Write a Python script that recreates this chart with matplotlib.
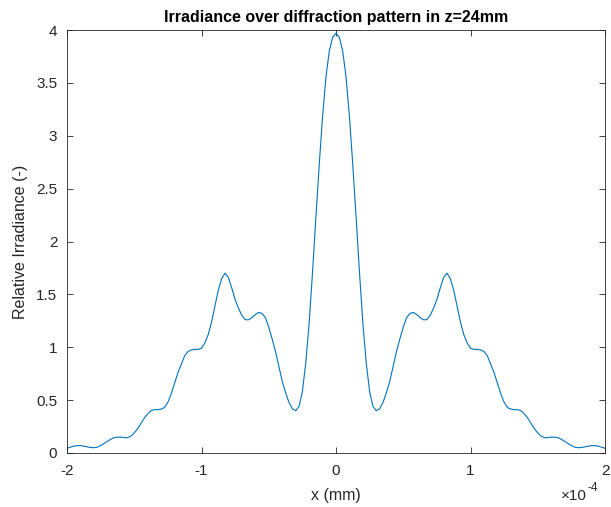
import numpy as np
import matplotlib
matplotlib.use("Agg")
import matplotlib.pyplot as plt

plt.rcParams['font.family'] = ['Liberation Sans', 'DejaVu Sans']
plt.rcParams['axes.unicode_minus'] = False

# sample positions (mm), 0.025e-4 spacing
x_mm = np.linspace(-2e-4, 2e-4, 161)

# relative irradiance, left half (-2e-4 .. -0.025e-4)
irr_left = [0.045, 0.055, 0.065, 0.07, 0.07, 0.065, 0.058, 0.052, 0.05, 0.055,
            0.07, 0.09, 0.11, 0.13, 0.145, 0.15, 0.15, 0.145, 0.145,
            0.16, 0.19, 0.23, 0.28, 0.33, 0.37, 0.40, 0.41, 0.41, 0.415,
            0.43, 0.48, 0.56, 0.66, 0.76, 0.84, 0.92, 0.96, 0.975, 0.98,
            0.98, 0.99, 1.04, 1.12, 1.24, 1.39, 1.54, 1.65, 1.70, 1.66,
            1.56, 1.45, 1.37, 1.30, 1.26, 1.26, 1.28, 1.31, 1.33, 1.32,
            1.28, 1.19, 1.08, 0.96, 0.82, 0.68, 0.57, 0.48, 0.42, 0.40,
            0.44, 0.58, 0.85, 1.22, 1.70, 2.22, 2.72, 3.18, 3.55, 3.80,
            3.93]
irr_center = [3.97]
# right half (0.025e-4 .. 2e-4)
irr_right = [3.93, 3.80, 3.55, 3.18, 2.72, 2.22, 1.70, 1.22, 0.85, 0.58,
             0.44, 0.40, 0.42, 0.48, 0.57, 0.68, 0.82, 0.96, 1.08, 1.19,
             1.28, 1.32, 1.33, 1.31, 1.28, 1.26, 1.26, 1.30, 1.37, 1.45,
             1.56, 1.66, 1.70, 1.65, 1.54, 1.39, 1.24, 1.12, 1.04, 0.99,
             0.98, 0.98, 0.975, 0.96, 0.92, 0.84, 0.76, 0.66, 0.56, 0.48,
             0.43, 0.415, 0.41, 0.41, 0.40, 0.37, 0.33, 0.28, 0.23, 0.19,
             0.16, 0.145, 0.145, 0.15, 0.15, 0.145, 0.13, 0.11, 0.09,
             0.07, 0.055, 0.05, 0.052, 0.058, 0.065, 0.07, 0.07, 0.065, 0.055,
             0.045]
irradiance = irr_left + irr_center + irr_right

x_ticks = [-2e-4, -1e-4, 0, 1e-4, 2e-4]
x_labels = ['-2', '-1', '0', '1', '2']
y_ticks = [0, 0.5, 1, 1.5, 2, 2.5, 3, 3.5, 4]
y_labels = ['0', '0.5', '1', '1.5', '2', '2.5', '3', '3.5', '4']

axc = '#262626'
fig = plt.figure(figsize=(6.11, 5.07), dpi=100)
ax = fig.add_axes([67 / 611, 54 / 507, 538 / 611, 423 / 507])

ax.plot(x_mm, irradiance, color='#0072BD', lw=0.8)

ax.set_xlim(-2e-4, 2e-4)
ax.set_ylim(0, 4)
ax.set_xticks(x_ticks)
ax.set_xticklabels(x_labels)
ax.set_yticks(y_ticks)
ax.set_yticklabels(y_labels)

ax.tick_params(direction='in', length=4, width=0.6, colors=axc,
               labelsize=11, top=True, right=True)
ax.tick_params(axis='x', pad=8)
ax.tick_params(axis='y', pad=7)
for s in ax.spines.values():
    s.set_color(axc)
    s.set_linewidth(0.6)

# exponent label, MATLAB style
ax.text(0.9665, -0.112, '\u00d710', transform=ax.transAxes,
        ha='right', va='baseline', fontsize=11, color=axc)
ax.text(0.9675, -0.090, '-4', transform=ax.transAxes,
        ha='left', va='baseline', fontsize=8.5, color=axc)

ax.set_xlabel('x (mm)', fontsize=11.5, color=axc, labelpad=7)
ax.set_ylabel('Relative Irradiance (-)', fontsize=11.5, color=axc, labelpad=6)
ax.set_title('Irradiance over diffraction pattern in z=24mm',
             fontsize=11.5, fontweight='bold', color='black', pad=6)

fig.savefig('out.png', dpi=100)
